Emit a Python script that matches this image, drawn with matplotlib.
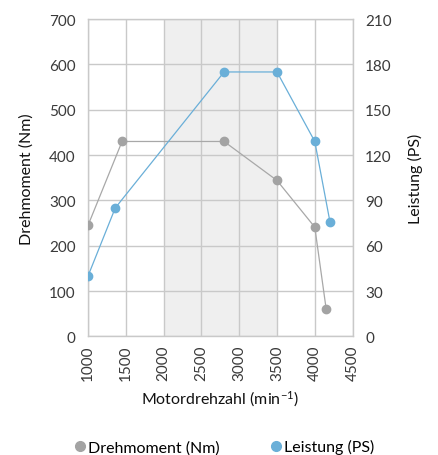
import matplotlib
matplotlib.use("Agg")
import matplotlib.pyplot as plt
from matplotlib.lines import Line2D

plt.rcParams['font.family'] = ['Lato', 'DejaVu Sans']
plt.rcParams['mathtext.fontset'] = 'custom'
plt.rcParams['mathtext.rm'] = 'Lato'
plt.rcParams['mathtext.default'] = 'regular'

# Data
torque_rpm = [1000, 1450, 2800, 3500, 4000, 4150]
torque_nm = [245, 430, 430, 344, 241, 61]
power_rpm = [1000, 1360, 2800, 3500, 4000, 4200]
power_ps = [40, 85, 175, 175, 129, 76]
x_ticks = [1000, 1500, 2000, 2500, 3000, 3500, 4000, 4500]
left_ticks = [0, 100, 200, 300, 400, 500, 600, 700]
right_ticks = [0, 30, 60, 90, 120, 150, 180, 210]
shade_range = [2000, 3500]

gray = '#a3a3a3'
gray_line = '#a8a8a8'
blue = '#6aafd8'
grid_c = '#c9c9c9'
txt = '#3a3a3a'

fig = plt.figure(figsize=(4.38, 4.56), dpi=100)
ax = fig.add_axes([0.201, 0.260, 0.604, 0.696])
ax.set_xlim(1000, 4500)
ax.set_ylim(0, 700)
ax.axvspan(shade_range[0], shade_range[1], color='#efefef', zorder=0, lw=0)
ax.set_xticks(x_ticks)
ax.set_yticks(left_ticks)
ax.grid(True, color=grid_c, lw=1.0, zorder=1)
for s in ax.spines.values():
    s.set_color(grid_c)
    s.set_linewidth(1.0)
ax.tick_params(length=0, labelsize=11, colors=txt, pad=9)
ax.tick_params(axis='x', rotation=90, pad=6)
ax.set_ylabel('Drehmoment (Nm)', fontsize=11.5, color='#111111', labelpad=11)
ax.set_xlabel('Motordrehzahl (min$^{-1}$)', fontsize=11.5, color='#111111', labelpad=6)

ax.plot(torque_rpm, torque_nm, color=gray_line, lw=0.9, marker='o', ms=6,
        mfc=gray, mec=gray, zorder=3)

ax2 = ax.twinx()
ax2.set_ylim(0, 210)
ax2.set_yticks(right_ticks)
for s in ax2.spines.values():
    s.set_visible(False)
ax2.tick_params(length=0, labelsize=11, colors=txt, pad=9)
ax2.set_ylabel('Leistung (PS)', fontsize=11.5, color='#111111', rotation=90, labelpad=12)
ax2.plot(power_rpm, power_ps, color=blue, lw=0.9, marker='o', ms=6,
         mfc=blue, mec=blue, zorder=3)

handles = [Line2D([], [], ls='none', marker='o', ms=7, mfc=gray, mec=gray),
           Line2D([], [], ls='none', marker='o', ms=7, mfc=blue, mec=blue)]
fig.legend(handles, ['Drehmoment (Nm)', 'Leistung (PS)'], loc='center',
           bbox_to_anchor=(0.51, 0.018), ncol=2, frameon=False, fontsize=11.5,
           handletextpad=0.0, columnspacing=3.0, handlelength=1.0)

fig.savefig('out.png', dpi=100)
